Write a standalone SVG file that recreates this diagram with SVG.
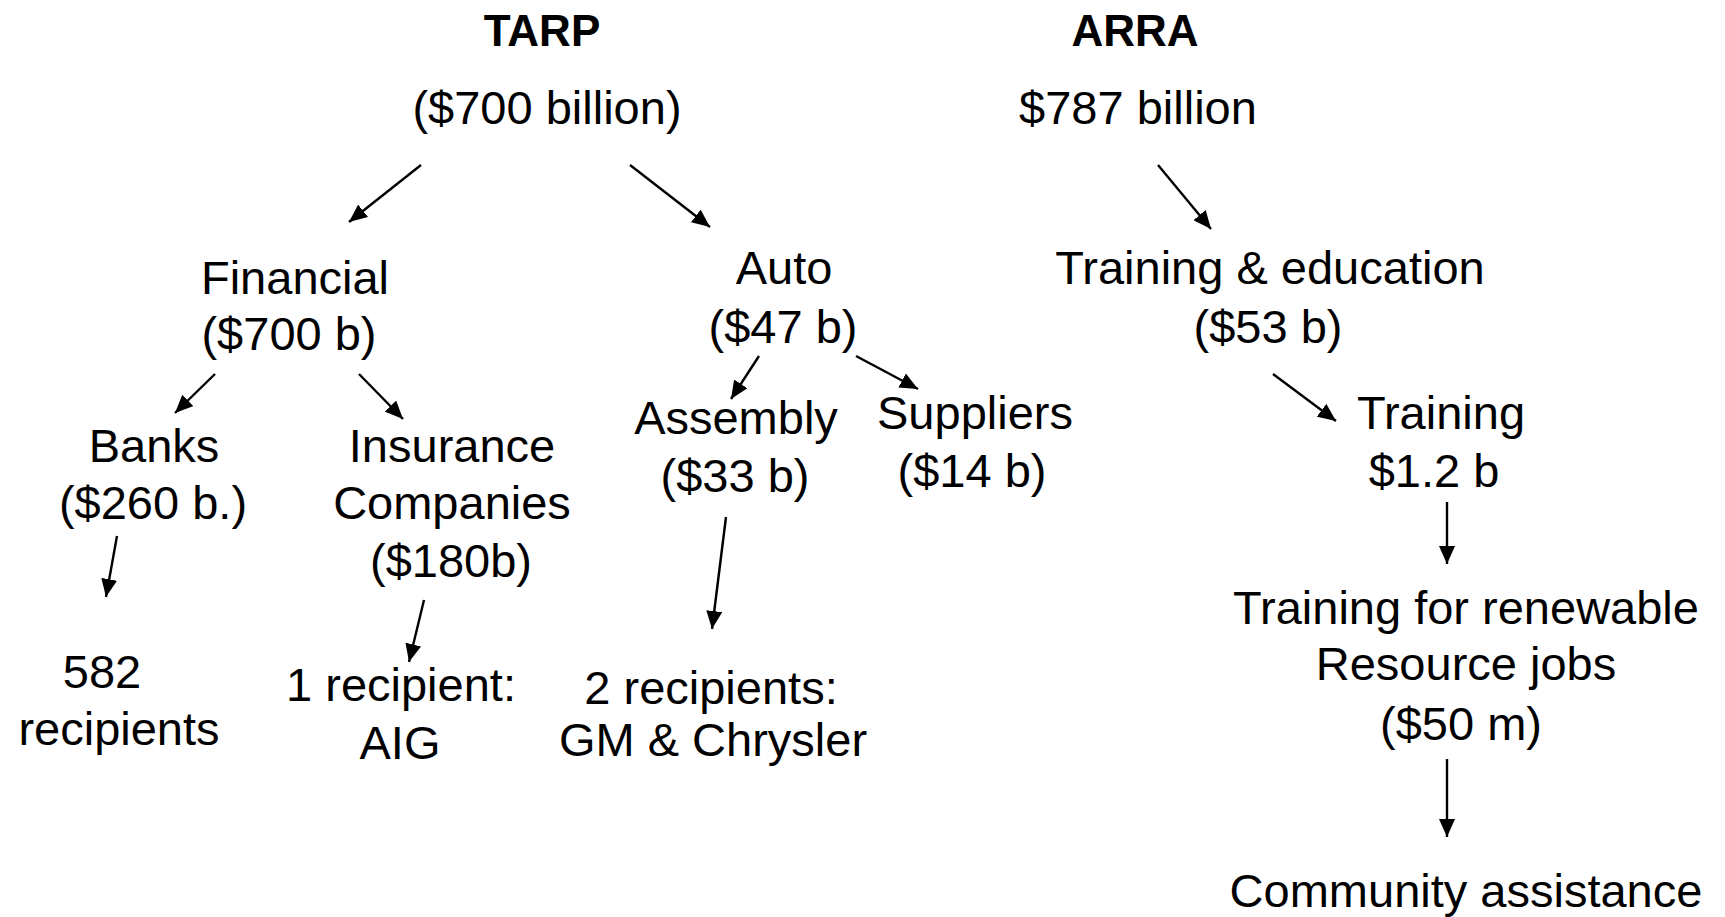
<svg xmlns="http://www.w3.org/2000/svg" width="1725" height="917" viewBox="0 0 1725 917">
<defs>
<marker id="ah" viewBox="0 0 18 16" refX="18" refY="8" markerWidth="18" markerHeight="16" markerUnits="userSpaceOnUse" orient="auto">
<path d="M0,0 L18,8 L0,16 z" fill="#000"/>
</marker>
<style>
text{font-family:"Liberation Sans",Arial,sans-serif;font-size:47px;fill:#000;text-anchor:middle}
.b{font-weight:bold;font-size:44px}
.c line{stroke:#000;stroke-width:2.4;marker-end:url(#ah)}
</style>
</defs>
<rect width="1725" height="917" fill="#fff"/>
<g id="tarp"><text class="b" x="542" y="46">TARP</text><text x="547" y="124">($700 billion)</text></g>
<g id="arra"><text class="b" x="1135" y="46">ARRA</text><text x="1138" y="124">$787 billion</text></g>
<g id="financial"><text x="295" y="294">Financial</text><text x="289" y="350">($700 b)</text></g>
<g id="auto"><text x="784" y="284">Auto</text><text x="783" y="343">($47 b)</text></g>
<g id="banks"><text x="154" y="462">Banks</text><text x="153" y="519">($260 b.)</text></g>
<g id="insurance"><text x="452" y="462">Insurance</text><text x="452" y="519">Companies</text><text x="451" y="577">($180b)</text></g>
<g id="assembly"><text x="736" y="434">Assembly</text><text x="735" y="492">($33 b)</text></g>
<g id="suppliers"><text x="975" y="429">Suppliers</text><text x="972" y="487">($14 b)</text></g>
<g id="training-education"><text x="1270" y="284">Training &amp; education</text><text x="1268" y="343">($53 b)</text></g>
<g id="training"><text x="1441" y="429">Training</text><text x="1434" y="487">$1.2 b</text></g>
<g id="renewable"><text x="1466" y="624">Training for renewable</text><text x="1466" y="680">Resource jobs</text><text x="1461" y="740">($50 m)</text></g>
<g id="community"><text x="1466" y="907">Community assistance</text></g>
<g id="r582"><text x="102" y="688">582</text><text x="119" y="745">recipients</text></g>
<g id="aig"><text x="401" y="701">1 recipient:</text><text x="400" y="759">AIG</text></g>
<g id="gm"><text x="711" y="704">2 recipients:</text><text x="713" y="756">GM &amp; Chrysler</text></g>
<g class="c" id="connectors">
<line x1="421" y1="165" x2="349" y2="222"/>
<line x1="630" y1="165" x2="710" y2="227"/>
<line x1="215" y1="374" x2="175" y2="413"/>
<line x1="359" y1="374" x2="403" y2="419"/>
<line x1="117" y1="536" x2="106" y2="597"/>
<line x1="424" y1="600" x2="409" y2="662"/>
<line x1="759" y1="356" x2="731" y2="399"/>
<line x1="856" y1="356" x2="918" y2="389"/>
<line x1="726" y1="517" x2="712" y2="629"/>
<line x1="1158" y1="165" x2="1211" y2="229"/>
<line x1="1273" y1="374" x2="1336" y2="421"/>
<line x1="1447" y1="502" x2="1447" y2="564"/>
<line x1="1447" y1="759" x2="1447" y2="837"/>
</g>
</svg>
